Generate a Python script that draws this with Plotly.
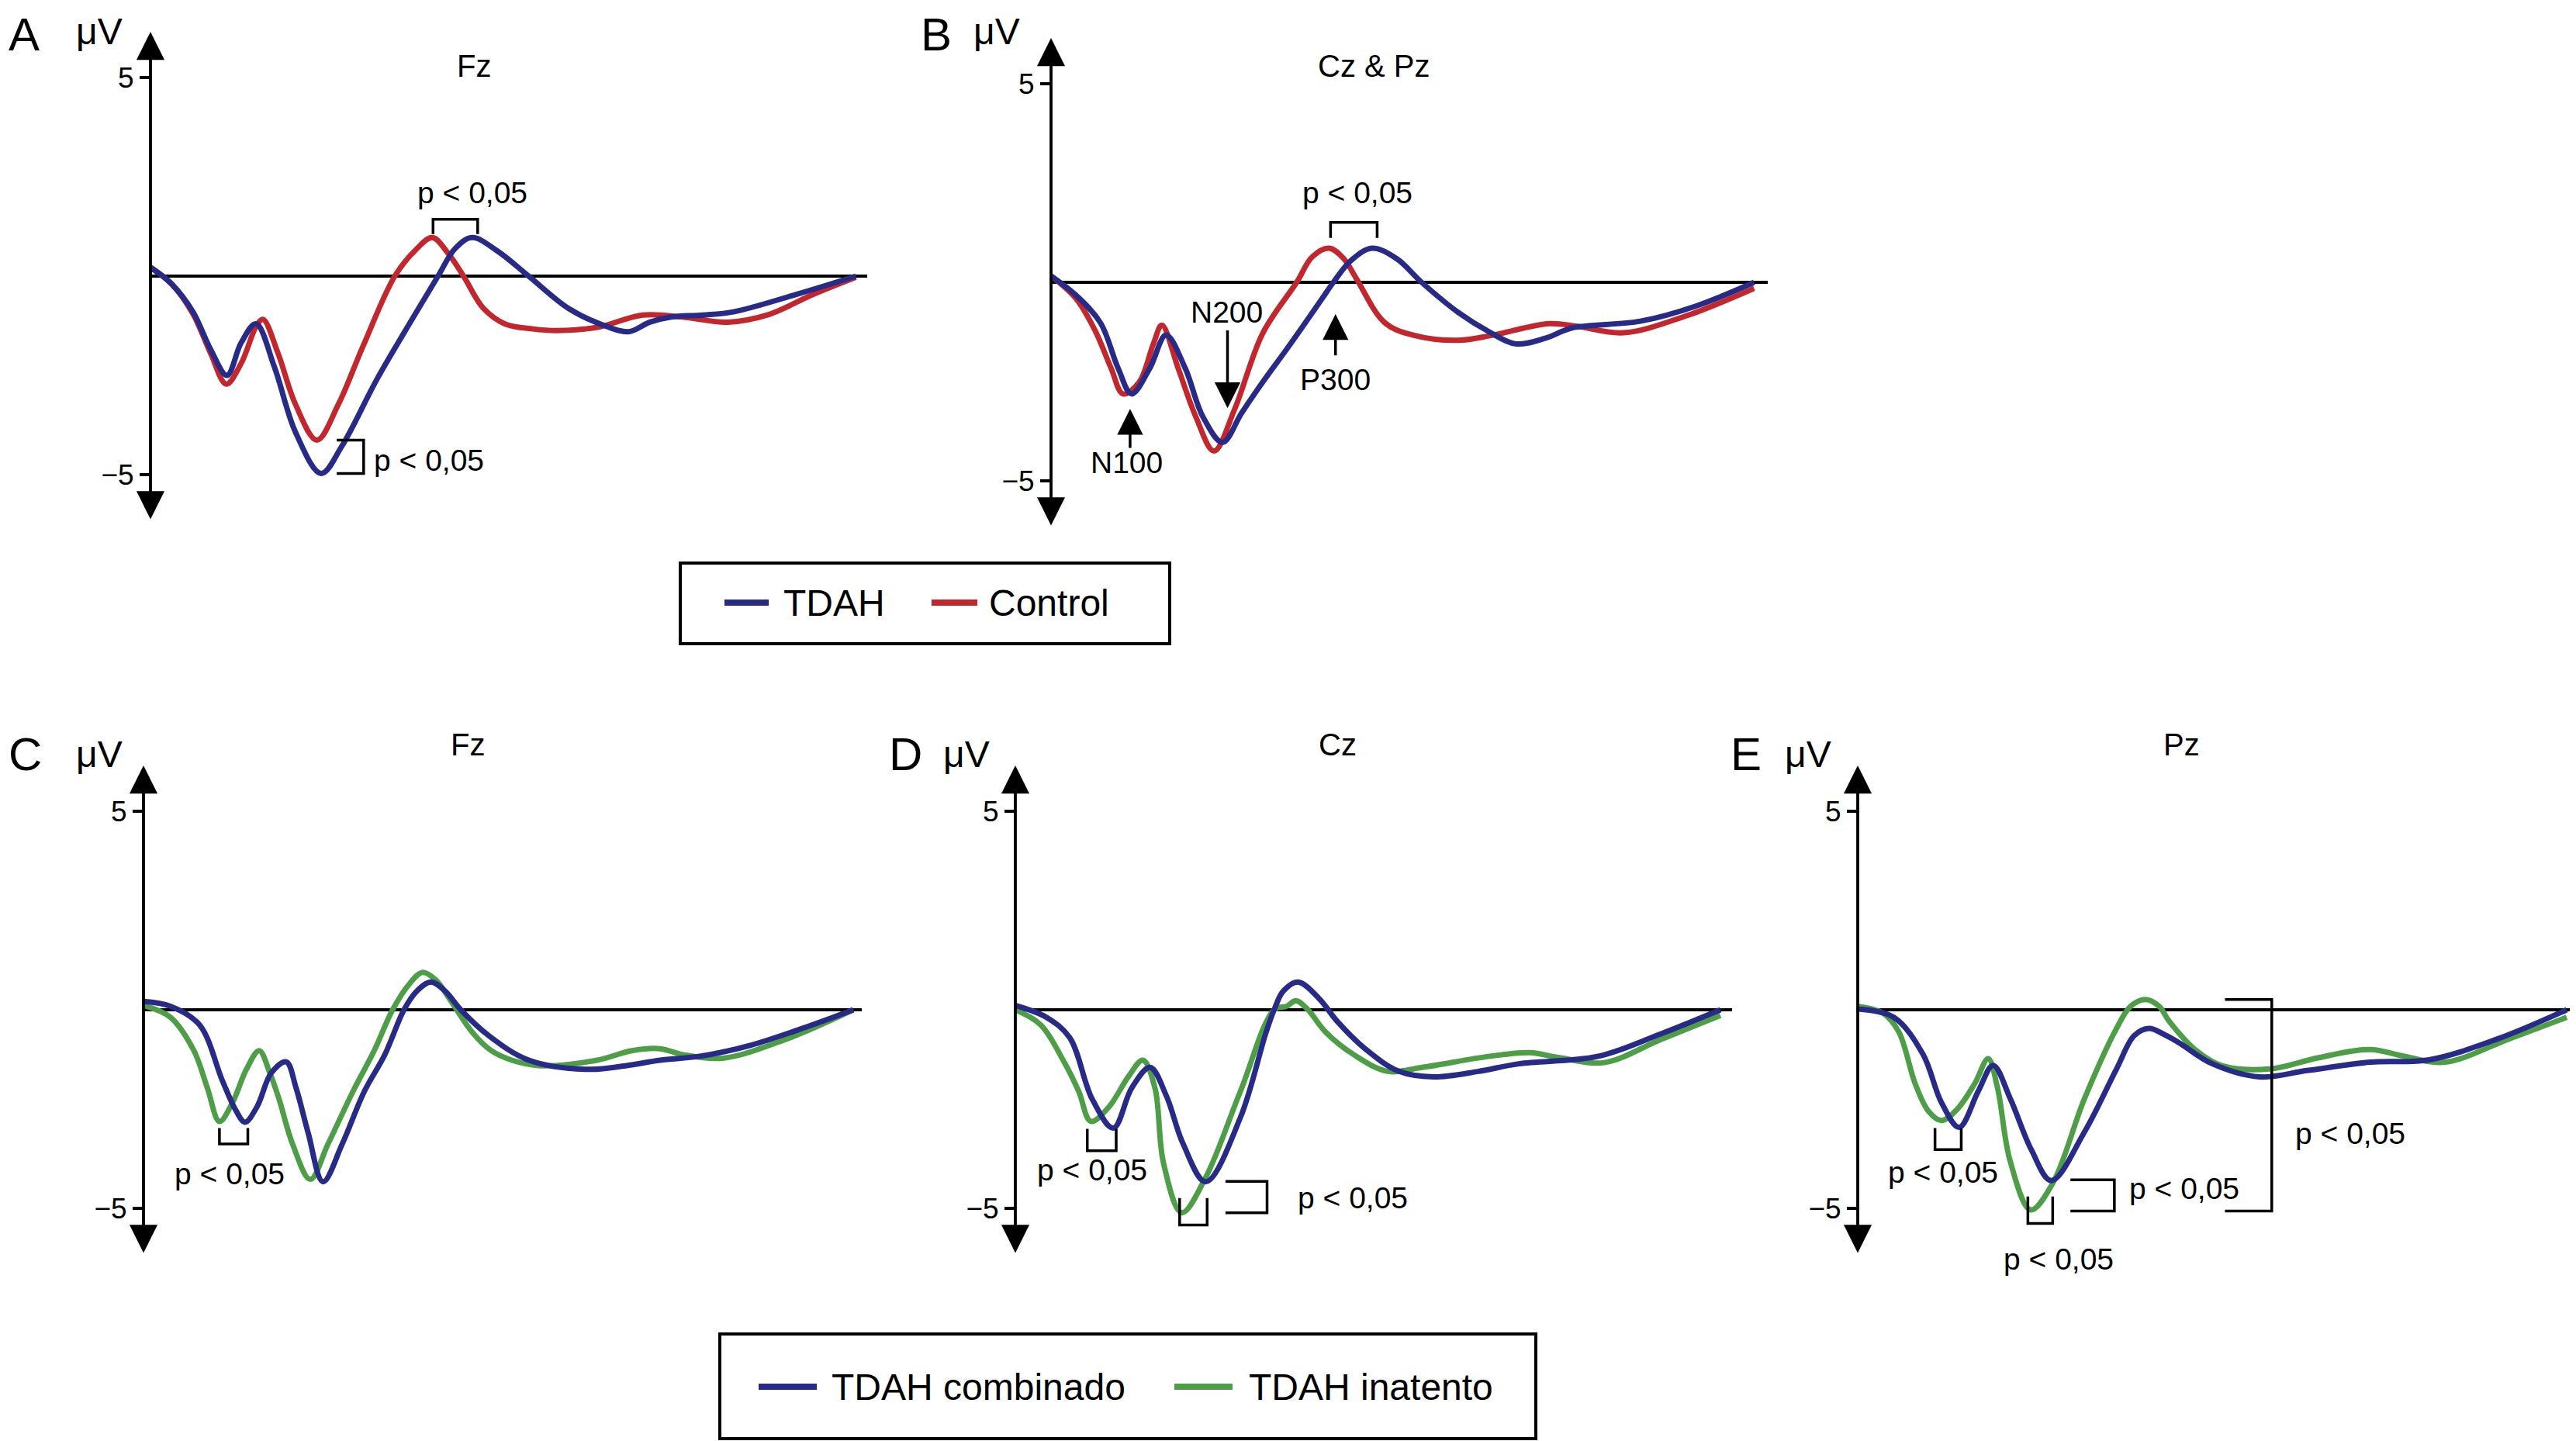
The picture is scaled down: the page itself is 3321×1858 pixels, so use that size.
import plotly.graph_objects as go

W, H = 3321, 1858
OFF = 8  # page body margin
FW, FH = W - OFF, H - OFF
FONT = "Liberation Sans, Arial, Helvetica, sans-serif"
BLUE = "#272a86"
RED = "#c1272d"
GREEN = "#4d9e47"

# ---- data: time (ms) / amplitude (uV) ----
# A  Fz  TDAH vs Control
A_tdah_t = [0, 30, 60, 85, 108, 128, 149, 175, 205, 241, 270, 320, 370, 406, 430, 454, 490, 534, 590, 640, 675, 705, 735, 780, 823, 912, 996]
A_tdah_v = [0.22, -0.2, -0.9, -1.85, -2.5, -1.68, -1.2, -2.29, -3.94, -4.97, -4.29, -2.59, -1.07, 0, 0.69, 0.97, 0.63, 0, -0.81, -1.24, -1.4, -1.16, -1.03, -0.98, -0.9, -0.46, 0]
A_ctrl_t = [0, 30, 60, 85, 107, 128, 150, 159, 180, 205, 235, 265, 300, 345, 375, 398, 420, 442, 470, 500, 540, 574, 631, 695, 751, 815, 871, 936, 996]
A_ctrl_v = [0.22, -0.2, -0.95, -1.95, -2.72, -2.2, -1.24, -1.09, -1.94, -3.24, -4.13, -3.24, -1.77, 0, 0.67, 0.97, 0.58, 0, -0.81, -1.2, -1.33, -1.37, -1.29, -0.98, -1.03, -1.16, -0.98, -0.46, -0.03]

# B  Cz & Pz
B_tdah_t = [0, 35, 70, 95, 114, 140, 163, 190, 215, 243, 270, 300, 336, 384, 400, 425, 455, 490, 525, 577, 620, 658, 700, 738, 835, 915, 996]
B_tdah_v = [0.16, -0.32, -1.02, -2.16, -2.81, -2.16, -1.33, -2.16, -3.38, -4.03, -3.29, -2.51, -1.63, -0.41, 0, 0.55, 0.86, 0.59, 0, -0.76, -1.24, -1.55, -1.41, -1.15, -0.98, -0.59, 0]
B_ctrl_t = [0, 35, 62, 85, 102, 125, 145, 157, 180, 205, 231, 260, 300, 348, 370, 394, 415, 432, 473, 513, 577, 626, 706, 746, 811, 899, 996]
B_ctrl_v = [0.16, -0.4, -1.2, -2.16, -2.81, -2.51, -1.55, -1.08, -2.16, -3.38, -4.25, -3.2, -1.28, 0, 0.64, 0.86, 0.59, 0.11, -1.02, -1.33, -1.46, -1.33, -1.04, -1.11, -1.27, -0.85, -0.15]

# C  Fz  combinado vs inatento
C_comb_t = [0, 38, 79, 111, 130, 143, 160, 180, 201, 215, 232, 253, 280, 311, 340, 367, 385, 405, 425, 447, 487, 543, 623, 679, 728, 784, 856, 936, 1000]
C_comb_v = [0.21, 0.09, -0.38, -1.78, -2.53, -2.83, -2.44, -1.59, -1.31, -1.97, -3.1, -4.33, -3.38, -2.06, -1.13, 0, 0.47, 0.7, 0.47, 0, -0.66, -1.27, -1.5, -1.41, -1.27, -1.17, -0.89, -0.42, 0]
C_inat_t = [0, 38, 71, 90, 107, 125, 145, 163, 178, 191, 210, 235, 260, 295, 325, 351, 375, 393, 412, 431, 463, 490, 519, 559, 639, 688, 728, 760, 816, 904, 1000]
C_inat_v = [0.11, -0.19, -1.03, -1.97, -2.81, -2.35, -1.5, -1.03, -1.59, -2.25, -3.38, -4.27, -3.38, -2.06, -1.03, 0, 0.66, 0.94, 0.75, 0.28, -0.56, -1.03, -1.27, -1.41, -1.27, -1.03, -0.98, -1.13, -1.22, -0.75, 0]

# D  Cz
D_comb_t = [0, 44, 77, 109, 139, 165, 191, 214, 238, 270, 319, 355, 367, 380, 401, 431, 456, 496, 544, 593, 657, 714, 827, 915, 1000]
D_comb_v = [0.11, -0.19, -0.7, -2.25, -2.98, -1.97, -1.45, -2.16, -3.38, -4.33, -2.72, -0.6, 0, 0.47, 0.7, 0.28, -0.28, -0.98, -1.55, -1.69, -1.55, -1.36, -1.17, -0.61, 0]
D_inat_t = [0, 36, 69, 90, 107, 133, 160, 181, 198, 210, 236, 270, 319, 367, 385, 398, 415, 440, 480, 528, 577, 673, 730, 770, 835, 915, 1000]
D_inat_v = [0, -0.38, -1.31, -2.06, -2.81, -2.44, -1.69, -1.27, -1.97, -3.85, -5.11, -4.22, -2.06, 0, 0.09, 0.23, 0, -0.56, -1.13, -1.55, -1.45, -1.17, -1.08, -1.2, -1.33, -0.75, -0.14]

# E  Pz
E_comb_t = [0, 51, 92, 118, 143, 170, 191, 215, 245, 273, 320, 365, 390, 411, 430, 454, 499, 567, 634, 723, 806, 903, 1000]
E_comb_v = [0.02, -0.19, -1.12, -2.33, -2.96, -2.05, -1.4, -2.23, -3.53, -4.3, -3.07, -1.49, -0.65, -0.47, -0.6, -0.84, -1.35, -1.69, -1.53, -1.32, -1.26, -0.73, 0]
E_inat_t = [0, 36, 58, 81, 100, 118, 140, 165, 184, 197, 215, 244, 275, 320, 365, 385, 406, 425, 439, 477, 514, 581, 649, 723, 768, 828, 918, 1000]
E_inat_v = [0.09, -0.09, -0.56, -1.86, -2.56, -2.79, -2.51, -1.86, -1.23, -1.95, -3.81, -5.04, -4.37, -2.23, -0.47, 0.09, 0.26, 0.09, -0.28, -1.02, -1.41, -1.49, -1.21, -1.0, -1.16, -1.32, -0.74, -0.19]

tick_vals = [5, -5]
tick_text = ["5", "\u22125"]

# ---- panel geometry in pixels: t=0 x, px per ms, baseline end (ms), 0 uV y ----
PX_UV = 51.2
YMAX = 6.3
panels = {
    "A": ("", 194, 0.913, 1012, 356, "Fz"),
    "B": ("2", 1355, 0.910, 1015, 364, "Cz & Pz"),
    "C": ("3", 185, 0.915, 1012, 1302, "Fz"),
    "D": ("4", 1309, 0.909, 1016, 1302, "Cz"),
    "E": ("5", 2395, 0.914, 1006, 1302, "Pz"),
}

series = {
    "A": [(A_ctrl_t, A_ctrl_v, RED), (A_tdah_t, A_tdah_v, BLUE)],
    "B": [(B_ctrl_t, B_ctrl_v, RED), (B_tdah_t, B_tdah_v, BLUE)],
    "C": [(C_inat_t, C_inat_v, GREEN), (C_comb_t, C_comb_v, BLUE)],
    "D": [(D_inat_t, D_inat_v, GREEN), (D_comb_t, D_comb_v, BLUE)],
    "E": [(E_inat_t, E_inat_v, GREEN), (E_comb_t, E_comb_v, BLUE)],
}


def fx(px):
    return (px - OFF) / FW


def fy(py):
    return 1 - (py - OFF) / FH


fig = go.Figure()
annotations = []
shapes = []


def ptxt(text, px, py, size=40, anchor="center"):
    annotations.append(dict(text=text, x=fx(px), y=fy(py), xref="paper", yref="paper",
                            xanchor=anchor, yanchor="middle", showarrow=False,
                            font=dict(size=size, color="black", family=FONT)))


for name, (sfx, x0, pxm, tend, y0, title) in panels.items():
    xa, ya = "x" + sfx, "y" + sfx
    for t, v, col in series[name]:
        fig.add_trace(go.Scatter(x=t, y=v, mode="lines", xaxis=xa, yaxis=ya,
                                 line=dict(color=col, width=7, shape="spline", smoothing=1),
                                 showlegend=False, hoverinfo="skip"))
    fig.layout["xaxis" + sfx] = dict(domain=[fx(x0), fx(x0 + tend * pxm)], range=[0, tend],
                                     visible=False, anchor=ya)
    fig.layout["yaxis" + sfx] = dict(domain=[fy(y0 + YMAX * PX_UV), fy(y0 - YMAX * PX_UV)],
                                     range=[-YMAX, YMAX], anchor=xa, showgrid=False, showline=False,
                                     zeroline=True, zerolinecolor="black", zerolinewidth=4,
                                     tickvals=tick_vals, ticktext=tick_text, ticks="outside",
                                     ticklen=13, tickwidth=3.5, tickcolor="black",
                                     tickfont=dict(size=37, family=FONT, color="black"))
    # double headed vertical axis
    annotations.append(dict(x=0, y=6.15, ax=0, ay=-6.15, xref=xa, yref=ya, axref=xa, ayref=ya,
                            text="", showarrow=True, arrowside="end+start", arrowhead=2,
                            startarrowhead=2, arrowsize=1.9, startarrowsize=1.9,
                            arrowwidth=3.8, arrowcolor="black"))
    # labels
    top = y0 < 600
    lx = {"A": 31, "B": 1207, "C": 32, "D": 1167, "E": 2251}[name]
    ux = {"A": 128, "B": 1285, "C": 128, "D": 1246, "E": 2331}[name]
    ptxt(name, lx, 44 if top else 972, size=60)
    ptxt("\u03bcV", ux, 40 if top else 972, size=48)
    ptxt(title, x0 + 417 * pxm / 0.913, 85 if top else 960, size=40)


def bracket(sfx, pts):
    path = "M " + " L ".join(f"{x},{y}" for x, y in pts)
    shapes.append(dict(type="path", path=path, xref="x" + sfx, yref="y" + sfx,
                       line=dict(color="black", width=3.5)))


def dtxt(sfx, text, x, y, anchor="center"):
    annotations.append(dict(text=text, x=x, y=y, xref="x" + sfx, yref="y" + sfx,
                            xanchor=anchor, yanchor="middle", showarrow=False,
                            font=dict(size=39, color="black", family=FONT)))


def arrow(sfx, x, ytail, yhead):
    annotations.append(dict(x=x, y=yhead, ax=x, ay=ytail, xref="x" + sfx, yref="y" + sfx,
                            axref="x" + sfx, ayref="y" + sfx, text="", showarrow=True,
                            arrowhead=2, arrowsize=1.9, arrowwidth=3.5, arrowcolor="black"))


P = "p < 0,05"
# A
bracket("", [(399, 1.06), (399, 1.43), (462, 1.43), (462, 1.06)])
dtxt("", P, 454, 2.1)
bracket("", [(263, -4.13), (301, -4.13), (301, -4.97), (263, -4.97)])
dtxt("", P, 313, -4.63, "left")
# B
bracket("2", [(396, 1.12), (396, 1.51), (462, 1.51), (462, 1.12)])
dtxt("2", P, 434, 2.25)
arrow("2", 112, -4.2, -3.19)
dtxt("2", "N100", 107, -4.55)
arrow("2", 250, -1.18, -3.17)
dtxt("2", "N200", 249, -0.76)
arrow("2", 403, -1.87, -0.8)
dtxt("2", "P300", 403, -2.45)
# C
bracket("3", [(107, -2.98), (107, -3.38), (147, -3.38), (147, -2.98)])
dtxt("3", P, 121, -4.13)
# D
bracket("4", [(102, -3.0), (102, -3.55), (143, -3.55), (143, -3.0)])
dtxt("4", P, 109, -4.03)
bracket("4", [(233, -4.74), (233, -5.42), (272, -5.42), (272, -4.74)])
dtxt("4", P, 244, -6.57)
bracket("4", [(298, -4.32), (357, -4.32), (357, -5.11), (298, -5.11)])
dtxt("4", P, 398, -4.74, "left")
# E
bracket("5", [(109, -2.98), (109, -3.52), (146, -3.52), (146, -2.98)])
dtxt("5", P, 120, -4.09)
bracket("5", [(240, -4.7), (240, -5.38), (275, -5.38), (275, -4.7)])
dtxt("5", P, 283, -6.28)
bracket("5", [(300, -4.28), (362, -4.28), (362, -5.07), (300, -5.07)])
dtxt("5", P, 381, -4.51, "left")
bracket("5", [(518, 0.26), (584, 0.26), (584, -5.07), (518, -5.07)])
dtxt("5", P, 615, -3.12, "left")


# ---- boxed legends ----
def legend_box(x0, y0, x1, y1, items, ymid):
    shapes.append(dict(type="rect", xref="paper", yref="paper", x0=fx(x0), x1=fx(x1),
                       y0=fy(y1), y1=fy(y0), line=dict(color="black", width=4)))
    for lx0, lx1, tx, label, col in items:
        shapes.append(dict(type="line", xref="paper", yref="paper", x0=fx(lx0), x1=fx(lx1),
                           y0=fy(ymid), y1=fy(ymid), line=dict(color=col, width=8)))
        ptxt(label, tx, ymid, size=48, anchor="left")


legend_box(877, 726, 1508, 830, [(934, 991, 1008, "TDAH", BLUE),
                                 (1201, 1260, 1273, "Control", RED)], 777)
legend_box(928, 1720, 1980, 1855, [(978, 1053, 1070, "TDAH combinado", BLUE),
                                   (1514, 1589, 1608, "TDAH inatento", GREEN)], 1788)

fig.update_layout(width=FW, height=FH, margin=dict(l=0, r=0, t=0, b=0),
                  paper_bgcolor="white", plot_bgcolor="white",
                  annotations=annotations, shapes=shapes, showlegend=False,
                  font=dict(family=FONT))

fig.write_html("out.html")
